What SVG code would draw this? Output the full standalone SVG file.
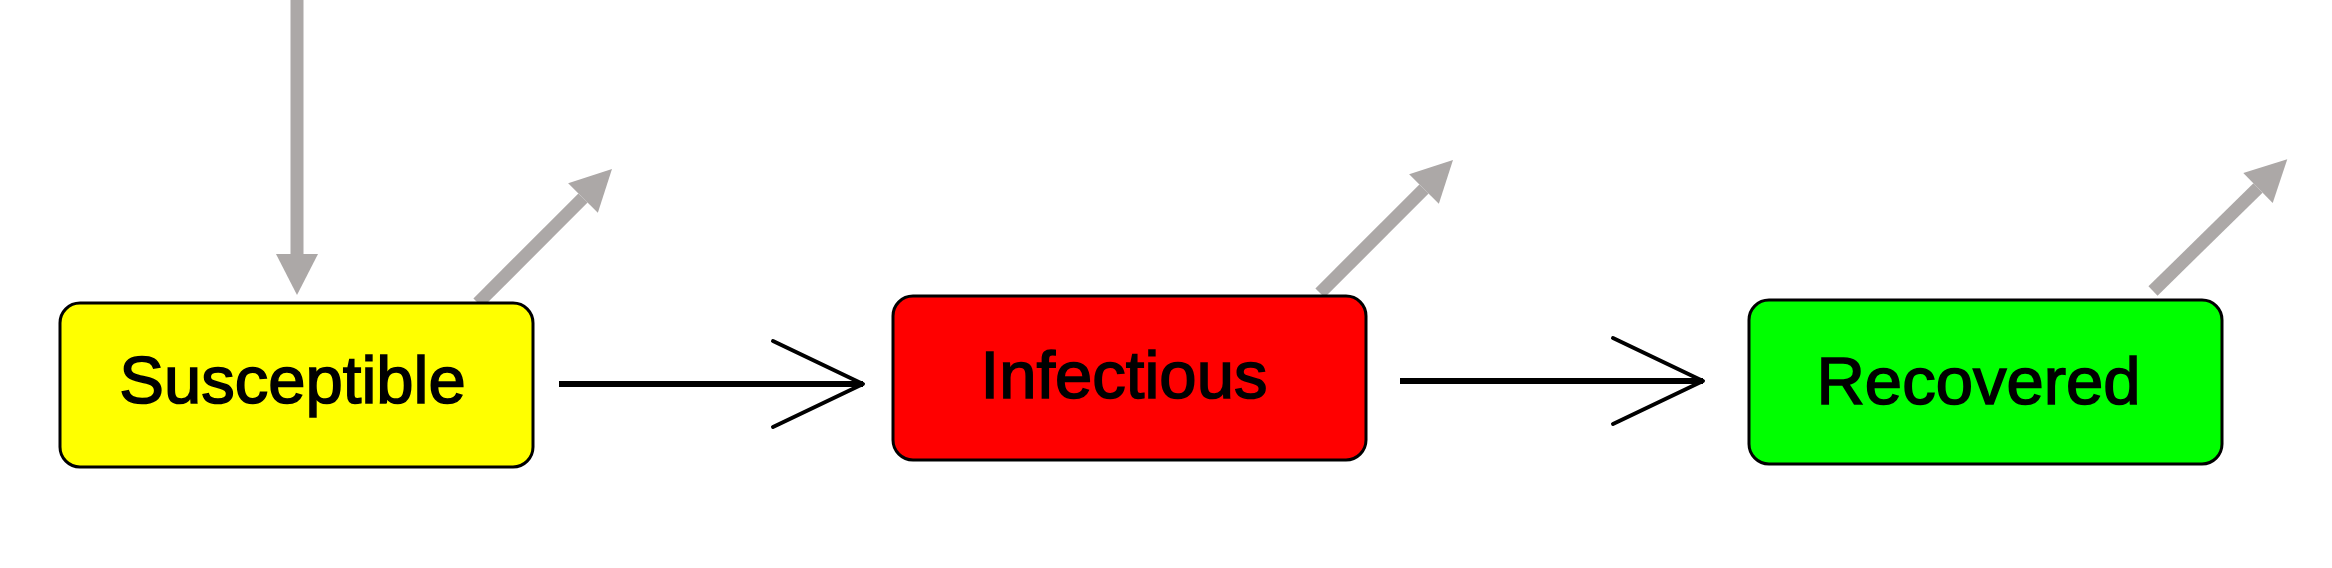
<svg xmlns="http://www.w3.org/2000/svg" width="2332" height="568" viewBox="0 0 2332 568">
  <style>
    .box { stroke: #000; stroke-width: 3; }
    .label { font-family: "Liberation Sans", Arial, sans-serif; font-size: 67px; fill: #000; stroke: #000; stroke-width: 1.6; text-anchor: middle; }
    .flow { stroke: #aca8a7; stroke-width: 13; fill: none; }
    .trans { stroke: #000; stroke-width: 6; fill: none; }
  </style>
  <defs>
    <marker id="grayHead" markerUnits="userSpaceOnUse" viewBox="0 -21 41 42" markerWidth="41" markerHeight="42" refX="0" refY="0" orient="auto" overflow="visible">
      <path d="M0,-21 L41,0 L0,21 Z" fill="#aca8a7"/>
    </marker>
    <marker id="openHead" markerUnits="userSpaceOnUse" viewBox="-95 -48 100 96" markerWidth="100" markerHeight="96" refX="0" refY="0" orient="auto" overflow="visible">
      <path d="M-90,-43 L0,0 L-90,43" fill="none" stroke="#000" stroke-width="4" stroke-linejoin="round" stroke-linecap="round"/>
    </marker>
  </defs>
  <rect width="2332" height="568" fill="#fff"/>

  <g id="connectors">
    <line class="flow" x1="297" y1="0" x2="297" y2="254" marker-end="url(#grayHead)"/>
    <line class="flow" x1="478" y1="303" x2="583" y2="198" marker-end="url(#grayHead)"/>
    <line class="flow" x1="1320" y1="293" x2="1424" y2="189" marker-end="url(#grayHead)"/>
    <line class="flow" x1="2153" y1="291" x2="2258" y2="188" marker-end="url(#grayHead)"/>
    <line class="trans" x1="559" y1="384" x2="863" y2="384" marker-end="url(#openHead)"/>
    <line class="trans" x1="1400" y1="381" x2="1703" y2="381" marker-end="url(#openHead)"/>
  </g>

  <g id="susceptible">
    <rect class="box" x="60" y="303" width="473" height="164" rx="20" ry="20" fill="#ffff00"/>
    <text class="label" x="292.5" y="403">Susceptible</text>
  </g>
  <g id="infectious">
    <rect class="box" x="893" y="296" width="473" height="164" rx="20" ry="20" fill="#ff0000"/>
    <text class="label" x="1124" y="398">Infectious</text>
  </g>
  <g id="recovered">
    <rect class="box" x="1749" y="300" width="473" height="164" rx="20" ry="20" fill="#00ff00"/>
    <text class="label" x="1978.5" y="404">Recovered</text>
  </g>
</svg>
